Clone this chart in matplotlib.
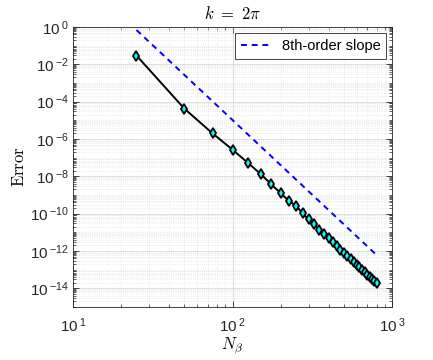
import numpy as np
from matplotlib import pyplot as plt
from matplotlib.ticker import FixedLocator, FuncFormatter, NullFormatter

plt.rcParams['font.family'] = ['Liberation Sans', 'DejaVu Sans']
plt.rcParams['mathtext.fontset'] = 'cm'

# grid sizes and measured errors
N_beta = [25, 50, 75, 100, 125, 150, 175, 200, 225, 250, 275, 300, 325, 350,
          375, 400, 425, 450, 475, 500, 525, 550, 575, 600, 625, 650, 675,
          700, 725, 750, 775, 800]
err = [2.95e-2, 4.17e-5, 2.0e-6, 2.69e-7, 5.25e-8, 1.35e-8, 3.72e-9, 1.29e-9,
       4.9e-10, 2.63e-10, 1.05e-10, 4.9e-11, 2.63e-11, 1.38e-11, 7.9e-12,
       4.68e-12, 2.88e-12, 1.86e-12, 1.20e-12, 7.9e-13, 5.4e-13, 3.7e-13,
       2.57e-13, 1.82e-13, 1.32e-13, 9.5e-14, 7.1e-14, 5.4e-14, 4.0e-14,
       3.1e-14, 2.34e-14, 1.82e-14]

# reference slope line end points
N_ref = [25, 800]
err_ref = [0.69, 6.1e-13]

fig = plt.figure(figsize=(4.33, 3.6), dpi=100)
ax = fig.add_axes([73/433, 1-307/360, (392-73)/433, (307-27)/360])

ax.loglog(N_beta, err, '-', color='k', lw=1.4, marker='d', ms=5.5,
          mfc='cyan', mec='k', mew=1.3, zorder=3)
ax.loglog(N_ref, err_ref, '--', color='b', lw=1.4, dashes=(3, 2.5),
          label='8th-order slope', zorder=2)

ax.set_xlim(10, 1000)
ax.set_ylim(1e-15, 1)

def sci(v, pos):
    e = int(round(np.log10(v)))
    return r'$\mathdefault{10\,^{%d}}$' % e

ax.xaxis.set_major_locator(FixedLocator([10, 100, 1000]))
ax.yaxis.set_major_locator(FixedLocator([10.0**k for k in range(-14, 1, 2)]))
ax.xaxis.set_minor_locator(FixedLocator([m*10.0**k for k in range(1, 3) for m in range(2, 10)]))
ax.yaxis.set_minor_locator(FixedLocator([m*10.0**k for k in range(-15, 0) for m in range(1, 10)
                                         if not (m == 1 and k % 2 == 0)]))
ax.xaxis.set_major_formatter(FuncFormatter(sci))
ax.yaxis.set_major_formatter(FuncFormatter(sci))
ax.xaxis.set_minor_formatter(NullFormatter())
ax.yaxis.set_minor_formatter(NullFormatter())

ax.tick_params(which='both', direction='in', top=True, right=True,
               color='0.15', labelcolor='0.15', labelsize=11)
ax.tick_params(which='major', length=4, width=0.6)
ax.tick_params(which='minor', length=2, width=0.5)
ax.tick_params(axis='x', pad=7)
ax.tick_params(axis='y', pad=3)
for s in ax.spines.values():
    s.set_color('0.15')
    s.set_linewidth(0.6)

ax.grid(True, which='major', color='0.85', lw=0.6)
ax.grid(True, which='minor', color='0.88', lw=0.5, ls=':')
ax.set_axisbelow(True)

ax.set_title(r'$k\ =\ 2\pi$', fontsize=12, pad=6)
ax.set_xlabel(r'$N_\beta$', fontsize=12, labelpad=0)
ax.set_ylabel(r'$\mathrm{Error}$', fontsize=12, labelpad=2)

leg = ax.legend(loc='upper right', fontsize=10.5, fancybox=False, framealpha=1,
                edgecolor='0.15', handlelength=2.0, borderaxespad=0.4)
leg.get_frame().set_linewidth(0.6)

fig.savefig('out.png', dpi=100)
